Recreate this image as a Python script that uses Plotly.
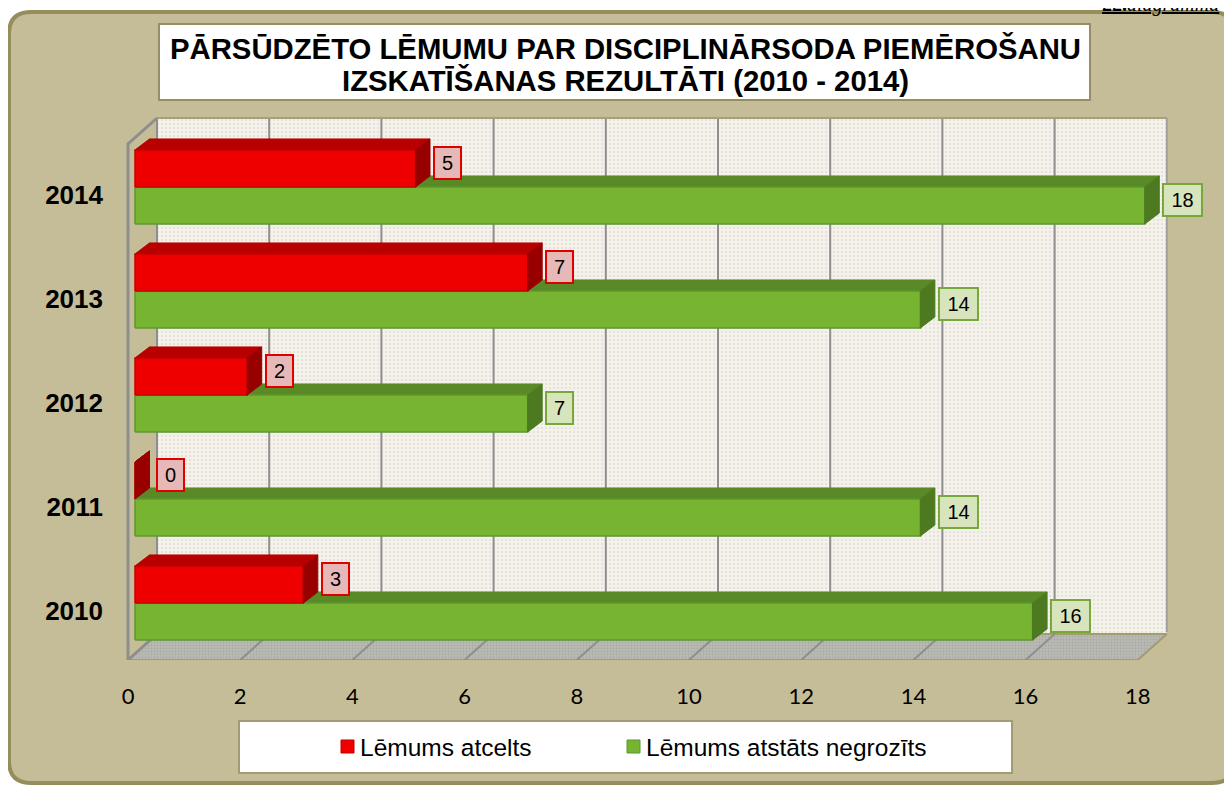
import plotly.graph_objects as go

# ---------------- data ----------------
years = ["2010", "2011", "2012", "2013", "2014"]
atcelts = [3, 0, 2, 7, 5]          # Lēmums atcelts (red)
negrozits = [16, 14, 7, 14, 18]    # Lēmums atstāts negrozīts (green)
x_ticks = [0, 2, 4, 6, 8, 10, 12, 14, 16, 18]
series_names = ["Lēmums atcelts", "Lēmums atstāts negrozīts"]
title_lines = ["PĀRSŪDZĒTO LĒMUMU PAR DISCIPLINĀRSODA PIEMĒROŠANU",
               "IZSKATĪŠANAS REZULTĀTI (2010 - 2014)"]
caption_num, caption_word = "22.", "diagramma"

# ---------------- page / figure geometry ----------------
OFF = 8                     # browser body margin
WF, HF = 1232 - OFF, 785 - OFF


def px(x):
    return (x - OFF) / WF


def py(y):
    return (HF - (y - OFF)) / HF


# ---------------- 3D look (styles) ----------------
XMAX = 18
DX, DY = 0.517, 0.25        # wall depth (data units)
FX, FY = 0.125, 0.077       # bar front offset
BX, BY = 0.258, 0.106       # bar depth
BH = 0.356                  # bar face height
YB = -0.4712                # floor front
YT = 4.7404                 # back wall top

RED_FRONT, RED_TOP, RED_SIDE, RED_LINE = "#ee0000", "#b80000", "#980000", "#c40000"
GRN_FRONT, GRN_TOP, GRN_SIDE, GRN_LINE = "#76b432", "#5a8a27", "#4d7a20", "#5e9630"

fig = go.Figure()

# back wall
fig.add_trace(go.Scatter(
    x=[DX, XMAX + DX, XMAX + DX, DX, DX],
    y=[YB + DY, YB + DY, YT, YT, YB + DY],
    mode="lines", fill="toself", line=dict(width=0),
    fillpattern=dict(shape=".", bgcolor="#f4f2eb", fgcolor="#d6d3c6", size=4, solidity=0.3),
    hoverinfo="skip", showlegend=False))
# floor
fig.add_trace(go.Scatter(
    x=[0, XMAX, XMAX + DX, DX, 0],
    y=[YB, YB, YB + DY, YB + DY, YB],
    mode="lines", fill="toself", line=dict(width=2, color="#a39b72"),
    fillpattern=dict(shape=".", bgcolor="#bdbdb7", fgcolor="#999994", size=3, solidity=0.45),
    hoverinfo="skip", showlegend=False))

# back wall grid lines + floor diagonals
gx, gy = [], []
for v in x_ticks[:-1]:
    gx += [v + DX, v + DX, None]
    gy += [YB + DY, YT, None]
for v in x_ticks[1:-1]:
    gx += [v, v + DX, None]
    gy += [YB, YB + DY, None]
fig.add_trace(go.Scatter(x=gx, y=gy, mode="lines", line=dict(color="#8e8e8e", width=2),
                         hoverinfo="skip", showlegend=False))
# back wall top / right edges
fig.add_trace(go.Scatter(x=[DX, XMAX + DX], y=[YT, YT], mode="lines",
                         line=dict(color="#a8a07c", width=2), hoverinfo="skip", showlegend=False))
fig.add_trace(go.Scatter(x=[XMAX + DX, XMAX + DX], y=[YT, YB + DY + 0.02], mode="lines",
                         line=dict(color="#a0a0a0", width=2), hoverinfo="skip", showlegend=False))
# left wall outline
fig.add_trace(go.Scatter(x=[DX, 0, 0, DX], y=[YT, YT - DY, YB, YB + DY], mode="lines",
                         line=dict(color="#8e8e8e", width=3), hoverinfo="skip", showlegend=False))


def faces(vals, bottom_off):
    fx_, fy_, tx, ty, sx, sy = [], [], [], [], [], []
    for i, v in enumerate(vals):
        b = i + bottom_off
        t = b + BH
        fx_ += [FX, FX + v, FX + v, FX, FX, None]
        fy_ += [b, b, t, t, b, None]
        tx += [FX, FX + v, FX + v + BX, FX + BX, FX, None]
        ty += [t, t, t + BY, t + BY, t, None]
        sx += [FX + v, FX + v, FX + v + BX, FX + v + BX, FX + v, None]
        sy += [b, t, t + BY, b + BY, b, None]
    return fx_, fy_, tx, ty, sx, sy


for vals, name, off, front, top, side, lc in [
    (negrozits, series_names[1], FY - BH, GRN_FRONT, GRN_TOP, GRN_SIDE, GRN_LINE),
    (atcelts, series_names[0], FY, RED_FRONT, RED_TOP, RED_SIDE, RED_LINE),
]:
    fx_, fy_, tx, ty, sx, sy = faces(vals, off)
    fig.add_trace(go.Scatter(x=tx, y=ty, mode="lines", fill="toself", fillcolor=top,
                             line=dict(color=top, width=1), hoverinfo="skip", showlegend=False))
    fig.add_trace(go.Scatter(x=fx_, y=fy_, mode="lines", fill="toself", fillcolor=front,
                             name=name, line=dict(color=lc, width=1.5), showlegend=False))
    fig.add_trace(go.Scatter(x=sx, y=sy, mode="lines", fill="toself", fillcolor=side,
                             line=dict(color=side, width=1), hoverinfo="skip", showlegend=False))

# data labels
ann = []
for vals, off, fill, border in [
    (atcelts, FY, "#e6b9b8", "#e00000"),
    (negrozits, FY - BH, "#d8e4bc", "#77a83c"),
]:
    for i, v in enumerate(vals):
        ann.append(dict(
            x=FX + v + BX, y=i + off + BH / 2 + BY / 2, xref="x", yref="y",
            text=str(v), showarrow=False, xanchor="left", yanchor="middle",
            xshift=3 if v > 0 else 7,
            font=dict(family="Liberation Sans, Arial", size=20, color="#000000"),
            bgcolor=fill, bordercolor=border, borderwidth=2, borderpad=1,
            width=12 * len(str(v)) + 11, height=28))

# title (two lines)
for txt, yc in zip(title_lines, [48, 80]):
    ann.append(dict(x=px(625), y=py(yc), xref="paper", yref="paper", showarrow=False,
                    text="<b>" + txt + "</b>",
                    font=dict(family="Liberation Sans, Arial", size=29.3, color="#000000"),
                    xanchor="center", yanchor="middle"))
# legend texts
ann.append(dict(x=px(358), y=py(747), xref="paper", yref="paper", showarrow=False,
                text=series_names[0], xanchor="left", yanchor="middle",
                font=dict(family="Liberation Sans, Arial", size=24.5, color="#000000")))
ann.append(dict(x=px(644), y=py(747), xref="paper", yref="paper", showarrow=False,
                text=series_names[1], xanchor="left", yanchor="middle",
                font=dict(family="Liberation Sans, Arial", size=24.5, color="#000000")))
# corner caption (cut at the top edge, as in the original page)
ann.append(dict(x=px(1100), y=py(4), xref="paper", yref="paper", showarrow=False,
                text='<span style="text-decoration:underline"><b>' + caption_num + '</b><i>'
                     + caption_word + '</i></span>',
                xanchor="left", yanchor="middle",
                font=dict(family="Liberation Serif, Times New Roman", size=20, color="#000000")))

# panel path (rounded)
x0, x1, yt, yb, r = 9, 1234, 12, 783, 22
rx, ry = r / WF, r / HF
X0, X1, YTp, YBp = px(x0), px(x1), py(yt), py(yb)
panel = (f"M {X0+rx},{YTp} L {X1-rx},{YTp} Q {X1},{YTp} {X1},{YTp-ry} "
         f"L {X1},{YBp+ry} Q {X1},{YBp} {X1-rx},{YBp} L {X0+rx},{YBp} "
         f"Q {X0},{YBp} {X0},{YBp+ry} L {X0},{YTp-ry} Q {X0},{YTp} {X0+rx},{YTp} Z")

shapes = [
    dict(type="path", path=panel, xref="paper", yref="paper", layer="below",
         fillcolor="#c5bd98", line=dict(color="#968d5c", width=4)),
    dict(type="rect", xref="paper", yref="paper", x0=px(159), x1=px(1090), y0=py(24), y1=py(100),
         fillcolor="#ffffff", line=dict(color="#978f63", width=2), layer="below"),
    dict(type="rect", xref="paper", yref="paper", x0=px(239), x1=px(1012), y0=py(721), y1=py(773),
         fillcolor="#ffffff", line=dict(color="#a39b72", width=2), layer="below"),
    dict(type="rect", xref="paper", yref="paper", x0=px(341), x1=px(354), y0=py(740), y1=py(753),
         fillcolor=RED_FRONT, line=dict(color=RED_LINE, width=1)),
    dict(type="rect", xref="paper", yref="paper", x0=px(627), x1=px(640), y0=py(740), y1=py(753),
         fillcolor=GRN_FRONT, line=dict(color=GRN_LINE, width=1)),
]

idx = list(range(len(years)))
fig.update_layout(
    width=WF, height=HF,
    margin=dict(l=0, r=0, t=0, b=0),
    paper_bgcolor="#ffffff", plot_bgcolor="rgba(0,0,0,0)",
    showlegend=False,
    annotations=ann, shapes=shapes,
    xaxis=dict(domain=[px(120), px(1180)], range=[(120 - 128) / 56.1, (1180 - 128) / 56.1],
               tickvals=x_ticks, ticktext=[str(t) for t in x_ticks],
               showgrid=False, zeroline=False, showline=False, ticks="",
               tickfont=dict(family="Lato", size=22, color="#000000"),
               ticklabelstandoff=21, automargin=False, fixedrange=True),
    yaxis=dict(domain=[py(660), py(110)], range=[(611 - 660) / 104, (611 - 110) / 104],
               tickvals=idx, ticktext=["<b>" + y + "</b>" for y in years],
               showgrid=False, zeroline=False, showline=False, ticks="",
               tickfont=dict(family="Liberation Sans, Arial", size=26, color="#000000"),
               ticklabelstandoff=16, automargin=False, fixedrange=True),
)

fig.write_html("out.html")
